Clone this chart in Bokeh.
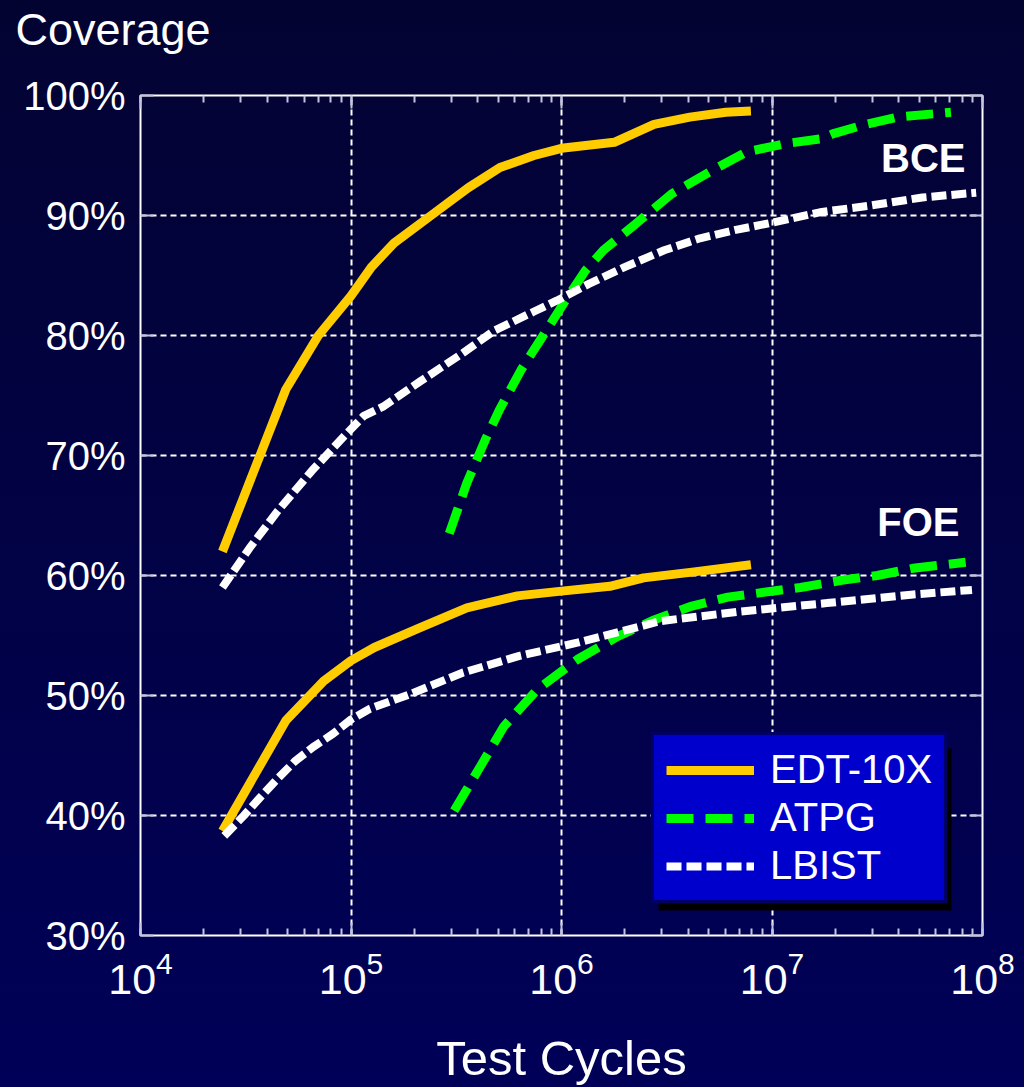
from bokeh.plotting import figure
from bokeh.models import (LogAxis, LinearAxis, FixedTicker, LogTicker, PrintfTickFormatter,
                          Legend, LegendItem, Label, BoxAnnotation, Title)
from bokeh.embed import file_html
from bokeh.resources import INLINE

FONT = "Liberation Sans"

# ---------------- data ----------------
series_names = ["EDT-10X", "ATPG", "LBIST"]
group_names = ["BCE", "FOE"]
x_title = "Test Cycles"
y_title = "Coverage"
y_ticks = [30, 40, 50, 60, 70, 80, 90, 100]
x_ticks = [1e4, 1e5, 1e6, 1e7, 1e8]

# EDT-10X, BCE
edt_bce_x = [2.45e4, 4.9e4, 7.0e4, 1.0e5, 1.25e5, 1.6e5, 2.4e5, 3.6e5, 5.1e5, 7.4e5,
             1.0e6, 1.78e6, 2.75e6, 4.07e6, 6.03e6, 7.94e6]
edt_bce_y = [62.0, 75.5, 80.0, 83.3, 85.7, 87.7, 90.0, 92.3, 94.0, 95.0,
             95.6, 96.1, 97.6, 98.2, 98.6, 98.7]
# ATPG, BCE
atpg_bce_x = [2.93e5, 3.55e5, 4.34e5, 5.07e5, 6.41e5, 8.11e5, 1.026e6, 1.297e6, 1.581e6,
              2.249e6, 3.334e6, 5.129e6, 7.586e6, 1.167e7, 1.726e7, 1.941e7, 2.661e7,
              3.936e7, 7.08e7]
atpg_bce_y = [63.5, 67.7, 71.3, 73.8, 77.1, 79.9, 82.7, 85.4, 87.1,
              89.3, 91.8, 93.7, 95.3, 96.0, 96.4, 96.8, 97.5,
              98.2, 98.6]
# LBIST, BCE
lbist_bce_x = [2.45e4, 3.3e4, 4.5e4, 6.5e4, 9.5e4, 1.15e5, 1.43e5, 2.14e5, 3.31e5, 4.79e5,
               7.41e5, 9.48e5, 1.349e6, 1.995e6, 3.076e6, 4.55e6, 6.73e6, 1.0e7, 1.726e7,
               2.871e7, 5.176e7, 9.33e7]
lbist_bce_y = [59.0, 62.3, 65.4, 68.7, 71.8, 73.3, 74.1, 76.2, 78.4, 80.4,
               82.0, 82.9, 84.3, 85.7, 87.1, 88.1, 88.8, 89.4, 90.3,
               90.8, 91.5, 91.9]
# EDT-10X, FOE
edt_foe_x = [2.45e4, 4.9e4, 7.41e4, 1.0e5, 1.29e5, 2.09e5, 3.55e5, 6.17e5, 1.0e6,
             1.698e6, 2.455e6, 4.266e6, 7.94e6]
edt_foe_y = [38.7, 47.9, 51.2, 52.9, 54.0, 55.6, 57.3, 58.3, 58.7,
             59.1, 59.8, 60.3, 60.9]
# ATPG, FOE
atpg_foe_x = [3.09e5, 4.12e5, 5.31e5, 7.67e5, 1.189e6, 1.841e6, 2.754e6, 4.074e6, 6.166e6,
              1.365e7, 2.138e7, 3.162e7, 4.677e7, 8.318e7]
atpg_foe_y = [40.4, 44.1, 47.4, 50.5, 53.0, 54.9, 56.3, 57.4, 58.2,
              59.0, 59.6, 60.0, 60.6, 61.1]
# LBIST, FOE
lbist_foe_x = [2.5e4, 3.1e4, 3.7e4, 4.5e4, 5.4e4, 6.6e4, 8.2e4, 1.0e5, 1.23e5, 1.9e5,
               3.39e5, 6.31e5, 1.189e6, 2.951e6, 7.079e6, 1.82e7, 4.571e7, 8.913e7]
lbist_foe_y = [38.3, 40.0, 41.5, 43.1, 44.5, 45.7, 46.8, 48.0, 48.9, 50.1,
               51.9, 53.3, 54.4, 56.2, 57.0, 57.7, 58.4, 58.8]

# ---------------- figure ----------------
p = figure(width=1024, height=1087, x_axis_type="log",
           x_range=(x_ticks[0], x_ticks[-1]), y_range=(y_ticks[0], y_ticks[-1]),
           output_backend="svg", toolbar_location=None,
           min_border_left=140, min_border_right=42, min_border_top=95, min_border_bottom=152)
p.background_fill_alpha = 0
p.border_fill_alpha = 0
p.outline_line_color = "white"
p.outline_line_width = 2

TICK_COL = "#c4c4e0"

xa = p.xaxis[0]
xa.ticker = LogTicker(num_minor_ticks=10)
ya = p.yaxis[0]
ya.ticker = FixedTicker(ticks=y_ticks)
ya.formatter = PrintfTickFormatter(format="%d%%")

for ax in (xa, ya):
    ax.axis_line_color = None
    ax.major_tick_line_color = TICK_COL
    ax.major_tick_line_width = 2
    ax.major_tick_in = 13
    ax.major_tick_out = 0
    ax.minor_tick_line_color = TICK_COL
    ax.minor_tick_line_width = 2
    ax.minor_tick_in = 7
    ax.minor_tick_out = 0
    ax.major_label_text_color = "white"
    ax.major_label_text_font = FONT
    ax.major_label_text_font_size = "40px"
ya.minor_tick_line_color = None
ya.major_label_standoff = 15
xa.major_label_text_font_size = "43px"
xa.major_label_standoff = 15
xa.axis_label = x_title
xa.axis_label_text_font = FONT
xa.axis_label_text_font_size = "49px"
xa.axis_label_text_font_style = "normal"
xa.axis_label_text_color = "white"
xa.axis_label_standoff = 34

top = LogAxis(ticker=LogTicker(num_minor_ticks=10), axis_line_color=None,
              major_tick_line_color=TICK_COL, major_tick_line_width=2, major_tick_in=13,
              major_tick_out=0, minor_tick_line_color=TICK_COL, minor_tick_line_width=2,
              minor_tick_in=7, minor_tick_out=0, major_label_text_color=None,
              major_label_text_font_size="1px", major_label_standoff=0)
p.add_layout(top, "above")
right = LinearAxis(ticker=FixedTicker(ticks=y_ticks), axis_line_color=None,
                   major_tick_line_color=TICK_COL, major_tick_line_width=2, major_tick_in=13,
                   major_tick_out=0, minor_tick_line_color=None, major_label_text_color=None,
                   major_label_text_font_size="1px", major_label_standoff=0)
p.add_layout(right, "right")

# blank spacer between the frame and the "Coverage" heading
p.add_layout(Title(text=" ", text_font_size="1px", standoff=38, text_color="white"), "above")
p.add_layout(Title(text=y_title, align="left", offset=-125, standoff=0,
                   text_font=FONT, text_font_size="45px", text_font_style="normal",
                   text_line_height=1.0, text_color="white"), "above")

p.xgrid.ticker = FixedTicker(ticks=x_ticks)
p.ygrid.ticker = FixedTicker(ticks=y_ticks)
for g in (p.xgrid, p.ygrid):
    g.grid_line_color = "white"
    g.grid_line_width = 2
    g.grid_line_dash = "6 4"

# ---------------- lines ----------------
ORANGE = "#FFCC00"
GREEN = "#00FF00"
WHITE = "#FFFFFF"

r_edt_bce = p.line(edt_bce_x, edt_bce_y, line_color=ORANGE, line_width=9, line_join="round")
r_edt_foe = p.line(edt_foe_x, edt_foe_y, line_color=ORANGE, line_width=9, line_join="round")
r_atpg_bce = p.line(atpg_bce_x, atpg_bce_y, line_color=GREEN, line_width=9, line_dash="27 12")
r_atpg_foe = p.line(atpg_foe_x, atpg_foe_y, line_color=GREEN, line_width=9, line_dash="27 12")
r_lb_bce = p.line(lbist_bce_x, lbist_bce_y, line_color=WHITE, line_width=8, line_dash="15 5")
r_lb_foe = p.line(lbist_foe_x, lbist_foe_y, line_color=WHITE, line_width=8, line_dash="15 5")

# ---------------- group labels ----------------
p.add_layout(Label(x=825, y=778, x_units="screen", y_units="screen", text=group_names[0],
                   text_align="right", text_baseline="alphabetic", text_color="white",
                   text_font=FONT, text_font_style="bold", text_font_size="40px"))
p.add_layout(Label(x=819, y=414, x_units="screen", y_units="screen", text=group_names[1],
                   text_align="right", text_baseline="alphabetic", text_color="white",
                   text_font=FONT, text_font_style="bold", text_font_size="40px"))

# ---------------- legend ----------------
shadow = BoxAnnotation(left=518, right=811, bottom=25, top=187,
                       left_units="screen", right_units="screen",
                       bottom_units="screen", top_units="screen",
                       fill_color="black", fill_alpha=1.0, line_color=None)
p.add_layout(shadow)

legend = Legend(items=[LegendItem(label=series_names[0], renderers=[r_edt_bce]),
                       LegendItem(label=series_names[1], renderers=[r_atpg_bce]),
                       LegendItem(label=series_names[2], renderers=[r_lb_bce])],
                location=(511, 32), margin=0, padding=12, spacing=3,
                glyph_width=88, glyph_height=44, label_height=44, label_standoff=16,
                label_text_font=FONT, label_text_font_size="40px", label_text_color="white",
                background_fill_color="#0000CC", background_fill_alpha=1.0,
                border_line_color="black", border_line_width=3)
p.add_layout(legend, "center")

html = file_html(p, INLINE)
html = html.replace("</head>",
                    "<style>html{background:linear-gradient(180deg,#030332 0%,#000058 100%);"
                    "min-height:100%;}</style></head>", 1)
open("out.html", "w").write(html)
